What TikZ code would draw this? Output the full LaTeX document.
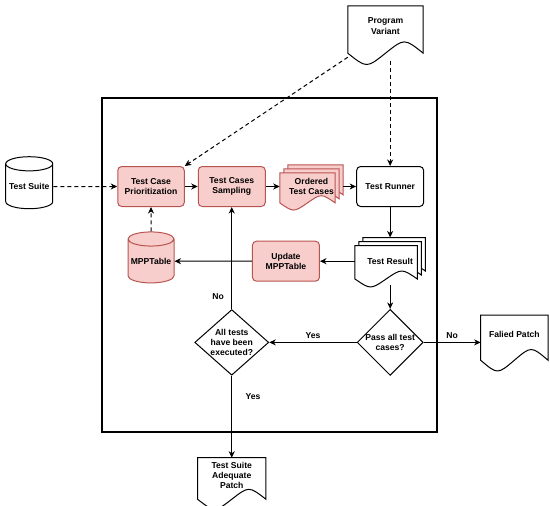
\documentclass[tikz,border=0pt]{standalone}
\usepackage{fontspec}
\setmainfont{Liberation Sans}
\usetikzlibrary{arrows.meta,positioning,shapes.geometric,calc,backgrounds}
\definecolor{stepfill}{HTML}{F8CECC}
\definecolor{stepline}{HTML}{B85450}

% document outline (wavy bottom), drawn round a node
\newcommand{\docoutline}[2]{%
  \path[#2] let \p1=(#1.south west), \p2=(#1.north east),
    \n1={1.38*((\y2)-(\y1))} in
    (\x1,\y2) -- (\x2,\y2) -- (\x2,{\y2-0.85*\n1})
    .. controls ({\x1+0.75*(\x2-\x1)},{\y2-0.58*\n1}) .. ({0.5*(\x1+\x2)},{\y2-0.85*\n1})
    .. controls ({\x1+0.25*(\x2-\x1)},{\y2-1.12*\n1}) .. (\x1,{\y2-0.85*\n1}) -- cycle;}

% three stacked documents filling a node
\newcommand{\stackdoc}[2]{%
  \foreach \k in {2,1,0}{%
    \path[#2] let \p1=(#1.south west), \p2=(#1.north east),
      \n1={(\x1)+\k*4pt}, \n2={(\x2)-8pt+\k*4pt},
      \n3={(\y2)-8pt+\k*4pt}, \n4={(\y1)+\k*4pt}, \n5={(\n3)-(\n4)} in
      (\n1,\n3) -- (\n2,\n3) -- (\n2,{\n4+0.15*\n5})
      .. controls ({\n1+0.75*(\n2-\n1)},{\n4+0.42*\n5}) .. ({0.5*(\n1+\n2)},{\n4+0.15*\n5})
      .. controls ({\n1+0.25*(\n2-\n1)},{\n4-0.12*\n5}) .. (\n1,{\n4+0.15*\n5}) -- cycle;}}

\begin{document}
\begin{tikzpicture}[
 x=1pt,y=1pt,
 font=\bfseries\fontsize{8.6}{10.4}\selectfont,
 box/.style={draw,rounded corners=4pt,align=center,line width=1pt,
   minimum width=67pt,minimum height=40pt,inner sep=2pt},
 redbox/.style={box,draw=stepline,fill=stepfill},
 doc/.style={align=center,inner sep=2pt},
 docline/.style={draw,line width=1pt,fill=white},
 reddocline/.style={draw=stepline,line width=1pt,fill=stepfill},
 store/.style={cylinder,shape border rotate=90,aspect=0.35,draw,line width=1pt,
   minimum width=46pt,minimum height=51pt,inner sep=0pt},
 check/.style={diamond,draw,line width=1pt,align=center,inner sep=-1pt},
 arr/.style={-{Stealth[length=6.5pt,width=6pt,inset=2pt]},line width=1pt},
 dasharr/.style={arr,dash pattern=on 4pt off 3pt}
]
\useasboundingbox (0,0) rectangle (550,-506);
\draw[line width=1.2pt] (102,-98) rectangle (437,-432);

\node[redbox,minimum width=66.5pt] (prio) at (151,-186.5) {Test Case\\Prioritization};
\node[redbox,right=13pt of prio] (samp) {Test Cases\\Sampling};
\node[doc,right=14pt of samp,minimum width=63pt,minimum height=43pt] (ord) {Ordered\\Test Cases};
\node[box,right=13pt of ord] (runner) {Test Runner};
\node[doc,below=30.5pt of runner,minimum width=70pt,minimum height=47pt] (res) {Test Result};
\node[redbox,left=35pt of res] (upd) {Update\\MPPTable};
\node[store,fill=stepfill,draw=stepline] (mpp) at (prio |- upd) {MPPTable};
\node[store,left=64pt of prio,minimum width=47pt,minimum height=52pt] (suite) {Test Suite};
\node[check,below=24pt of res,minimum width=66pt,minimum height=66pt] (pass) {Pass all test\\cases?};
\node[check,minimum width=74pt,minimum height=65pt] (alltests) at (samp |- pass)
 {All tests\\have been\\executed?};
\node[doc,right=57pt of pass,yshift=8pt,minimum width=67pt,minimum height=38pt] (fail) {Falied Patch};
\node[doc,below=82pt of alltests,minimum width=68pt,minimum height=35pt] (adeq)
 {Test Suite\\Adequate\\Patch};
\node[doc,minimum width=75pt,minimum height=40pt] (pv) at (385.5,-26) {Program\\Variant};
\coordinate (pvcorner) at ([yshift=-11pt]pv.south west);
\coordinate (pvout) at ([yshift=-15pt]pv.south);

\begin{scope}[on background layer]
\docoutline{pv}{docline}
\docoutline{fail}{docline}
\docoutline{adeq}{docline}
\stackdoc{ord}{reddocline}
\stackdoc{res}{docline}
\end{scope}

\draw[dasharr] (suite) -- (prio);
\draw[dasharr] (pvcorner) -- (prio.north east);
\draw[dasharr] (pvout -| runner.north) -- (runner.north);
\draw[arr] (prio) -- (samp);
\draw[arr] (samp) -- (ord);
\draw[arr] (ord) -- (runner);
\draw[arr] (runner) -- (res);
\draw[arr] (res) -- (upd);
\draw[arr] (upd) -- (mpp);
\draw[dasharr] (mpp) -- (prio);
\draw[arr] (res) -- (pass);
\draw[arr] (pass) -- node[above] {Yes} (alltests);
\draw[arr] (pass) -- (pass -| fail.west) node[midway,above] {No};
\draw[arr] (alltests) -- node[pos=0.12,left=4pt] {No} (samp);
\draw[arr] (alltests) -- node[pos=0.26,right=10pt] {Yes} (adeq);
\end{tikzpicture}
\end{document}
